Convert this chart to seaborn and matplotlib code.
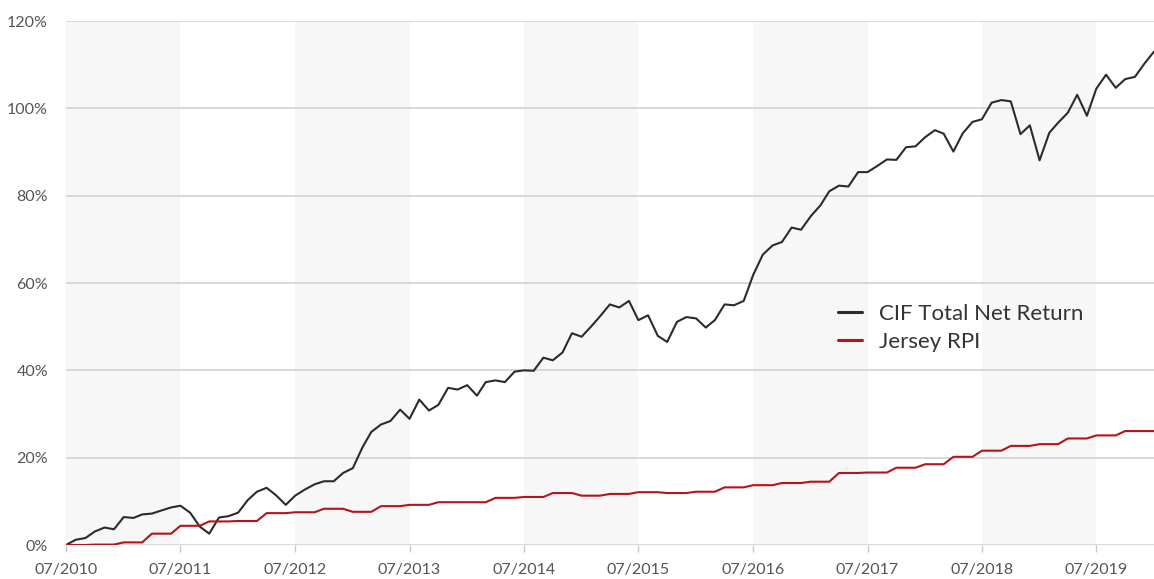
import matplotlib
matplotlib.use("Agg")
import matplotlib.pyplot as plt
import seaborn as sns
import pandas as pd
import numpy as np

# Monthly observations, July 2010 onwards (cumulative % since launch)
start_month = "2010-07-01"

cif_total_net_return = [
    0.0, 1.2, 1.6, 3.1, 4.0, 3.6, 6.4, 6.2, 7.0, 7.2, 7.9, 8.6,
    9.0, 7.4, 4.2, 2.6, 6.3, 6.6, 7.4, 10.3, 12.2, 13.1, 11.4, 9.2,
    11.3, 12.7, 13.9, 14.6, 14.6, 16.5, 17.6, 22.4, 25.9, 27.6, 28.4, 31.0,
    28.9, 33.3, 30.8, 32.1, 36.0, 35.6, 36.6, 34.2, 37.3, 37.7, 37.3, 39.7,
    40.0, 39.9, 42.9, 42.3, 44.1, 48.5, 47.7, 50.1, 52.4, 55.1, 54.4, 55.9,
    51.5, 52.6, 47.9, 46.5, 51.1, 52.2, 51.9, 49.8, 51.5, 55.1, 54.9, 55.9,
    61.8, 66.5, 68.6, 69.4, 72.7, 72.2, 75.3, 77.8, 81.0, 82.3, 82.1, 85.4,
    85.4, 86.8, 88.3, 88.2, 91.1, 91.3, 93.4, 95.0, 94.2, 90.1, 94.3, 96.9,
    97.5, 101.3, 101.9, 101.6, 94.1, 96.1, 88.1, 94.4, 96.7, 99.0, 103.1, 98.3,
    104.5, 107.7, 104.7, 106.7, 107.2, 110.2, 113.0,
]

jersey_rpi = [
    0.0, 0.0, 0.0, 0.1, 0.1, 0.1, 0.6, 0.6, 0.6, 2.6, 2.6, 2.6,
    4.4, 4.4, 4.4, 5.4, 5.4, 5.4, 5.5, 5.5, 5.5, 7.3, 7.3, 7.3,
    7.5, 7.5, 7.5, 8.3, 8.3, 8.3, 7.6, 7.6, 7.6, 8.9, 8.9, 8.9,
    9.2, 9.2, 9.2, 9.8, 9.8, 9.8, 9.8, 9.8, 9.8, 10.8, 10.8, 10.8,
    11.0, 11.0, 11.0, 11.9, 11.9, 11.9, 11.3, 11.3, 11.3, 11.7, 11.7, 11.7,
    12.1, 12.1, 12.1, 11.9, 11.9, 11.9, 12.2, 12.2, 12.2, 13.2, 13.2, 13.2,
    13.7, 13.7, 13.7, 14.2, 14.2, 14.2, 14.5, 14.5, 14.5, 16.5, 16.5, 16.5,
    16.6, 16.6, 16.6, 17.7, 17.7, 17.7, 18.5, 18.5, 18.5, 20.2, 20.2, 20.2,
    21.6, 21.6, 21.6, 22.7, 22.7, 22.7, 23.1, 23.1, 23.1, 24.4, 24.4, 24.4,
    25.1, 25.1, 25.1, 26.1, 26.1, 26.1, 26.1,
]

series_names = ["CIF Total Net Return", "Jersey RPI"]
series_colors = ["#2b2b2b", "#b5141c"]
tick_years = list(range(2010, 2020))
y_ticks = [0, 20, 40, 60, 80, 100, 120]

dates = pd.date_range(start_month, periods=len(cif_total_net_return), freq="MS")
df = pd.DataFrame({
    "date": np.concatenate([dates, dates]),
    "value": cif_total_net_return + jersey_rpi,
    "series": [series_names[0]] * len(dates) + [series_names[1]] * len(dates),
})

sns.set_style("white")
plt.rcParams["font.family"] = ["Lato", "DejaVu Sans"]

fig = plt.figure(figsize=(11.54, 5.79), dpi=100)
ax = fig.add_axes([0.0572, 0.0587, 0.9428, 0.905])

# alternating yearly bands
tick_dates = [pd.Timestamp(f"{y}-07-01") for y in tick_years]
for i, d in enumerate(tick_dates):
    if i % 2 == 0:
        ax.axvspan(d, d + pd.DateOffset(years=1), color="#f7f7f7", lw=0, zorder=0)

for yv in y_ticks:
    ax.axhline(yv, color="#d2d2d2", lw=1.2, zorder=1)

sns.lineplot(data=df, x="date", y="value", hue="series",
             palette=dict(zip(series_names, series_colors)),
             linewidth=1.5, ax=ax, zorder=3, legend=True)

ax.set_xlim(dates[0], dates[-1])
ax.set_ylim(0, 120)
ax.set_xticks(tick_dates)
ax.set_xticklabels([d.strftime("%m/%Y") for d in tick_dates])
ax.set_yticks(y_ticks)
ax.set_yticklabels([f"{v}%" for v in y_ticks])
ax.set_xlabel("")
ax.set_ylabel("")

for s in ax.spines.values():
    s.set_visible(False)

ax.tick_params(axis="x", length=5, width=1, color="#c8c8c8", pad=8,
               labelsize=11.5, labelcolor="#555555", direction="out", bottom=True)
ax.tick_params(axis="y", length=0, pad=13, labelsize=11.5, labelcolor="#555555")

leg = ax.legend(loc="center left", bbox_to_anchor=(0.7096, 0.414), frameon=False,
                fontsize=16, handlelength=1.08, handletextpad=0.77,
                labelspacing=0.35, borderpad=0, borderaxespad=0)
for line in leg.get_lines():
    line.set_linewidth(2.2)
for t in leg.get_texts():
    t.set_color("#333333")

fig.savefig("out.png", dpi=100)
